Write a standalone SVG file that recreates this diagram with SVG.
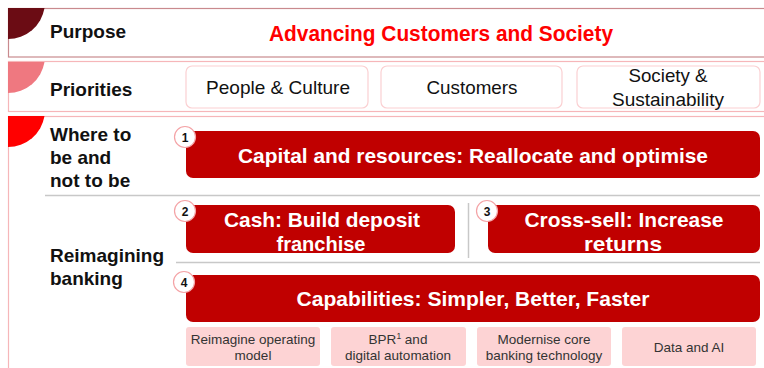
<svg xmlns="http://www.w3.org/2000/svg" width="764" height="368" viewBox="0 0 764 368">
<defs>
<style>
.lbl{font-family:"Liberation Sans",Arial,sans-serif;font-weight:bold;font-size:19px;fill:#111}
.pri{font-family:"Liberation Sans",Arial,sans-serif;font-size:19px;fill:#111;text-anchor:middle}
.prib{fill:#fff;stroke:#fbd0d2;stroke-width:1.2}
.red{fill:#c00000}
.rt{font-family:"Liberation Sans",Arial,sans-serif;font-weight:bold;font-size:21px;fill:#fff;text-anchor:middle}
.num{fill:#fff;stroke:#f4a3a6;stroke-width:1.2}
.nt{font-family:"Liberation Sans",Arial,sans-serif;font-weight:bold;font-size:12px;fill:#111;text-anchor:middle}
.sm{fill:#fdd3d4}
.st{font-family:"Liberation Sans",Arial,sans-serif;font-size:13.5px;fill:#333;text-anchor:middle}
.sep{stroke:#c8c8c8;stroke-width:1.5;fill:none}
</style>
</defs>
<rect width="764" height="368" fill="#fff"/>
<g id="purpose">
<rect x="8.5" y="8.5" width="770" height="48.5" fill="#fff" stroke="#c98a8e" stroke-width="1.2"/>
<path d="M8,8 H44.5 A37,37 0 0 1 8,39 Z" fill="#6b0c14"/>
<text class="lbl" x="50" y="38">Purpose</text>
<text x="441" y="41" font-family="'Liberation Sans',Arial,sans-serif" font-weight="bold" font-size="22" fill="#ff0000" text-anchor="middle" textLength="344" lengthAdjust="spacingAndGlyphs">Advancing Customers and Society</text>
</g>
<g id="priorities">
<rect x="8.5" y="61.5" width="770" height="50" fill="#fff" stroke="#f6b6b9" stroke-width="1.2"/>
<path d="M8,62 H44.5 A37,37 0 0 1 8,93 Z" fill="#ef7880"/>
<text class="lbl" x="50" y="96">Priorities</text>
</g>
<g id="p-people"><rect class="prib" x="186" y="66" width="182" height="42" rx="6"/><text class="pri" x="278" y="94" textLength="144" lengthAdjust="spacingAndGlyphs">People &amp; Culture</text></g>
<g id="p-customers"><rect class="prib" x="381" y="66" width="181" height="42" rx="6"/><text class="pri" x="472" y="94" textLength="91" lengthAdjust="spacingAndGlyphs">Customers</text></g>
<g id="p-society"><rect class="prib" x="577" y="66" width="183" height="42" rx="6"/><text class="pri" x="668" y="82" textLength="79" lengthAdjust="spacingAndGlyphs">Society &amp;</text><text class="pri" x="668" y="106" textLength="112" lengthAdjust="spacingAndGlyphs">Sustainability</text></g>
<g id="strategy">
<rect x="8.5" y="116.5" width="770" height="270" fill="#fff" stroke="#f6b6b9" stroke-width="1.2"/>
<path d="M8,116 H44.5 A37,37 0 0 1 8,147 Z" fill="#ff0000"/>
<text class="lbl" x="50" y="141">Where to</text>
<text class="lbl" x="50" y="164">be and</text>
<text class="lbl" x="50" y="187">not to be</text>
<text class="lbl" x="50" y="262">Reimagining</text>
<text class="lbl" x="50" y="285">banking</text>
</g>
<g id="separators">
<line class="sep" x1="45" y1="195.5" x2="760" y2="195.5"/>
<line class="sep" x1="176" y1="262.5" x2="760" y2="262.5"/>
<line class="sep" x1="468.5" y1="203" x2="468.5" y2="258"/>
</g>
<g id="n1">
<rect class="red" x="186" y="131" width="574" height="47" rx="7"/>
<text class="rt" x="473" y="163" textLength="470" lengthAdjust="spacingAndGlyphs">Capital and resources: Reallocate and optimise</text>
<circle class="num" cx="185" cy="137" r="10.5"/><text class="nt" x="185" y="141.5">1</text>
</g>
<g id="n2">
<rect class="red" x="186" y="205" width="269" height="48" rx="7"/>
<text class="rt" x="322" y="227" textLength="196" lengthAdjust="spacingAndGlyphs">Cash: Build deposit</text>
<text class="rt" x="321" y="251" textLength="89" lengthAdjust="spacingAndGlyphs">franchise</text>
<circle class="num" cx="185" cy="211" r="10.5"/><text class="nt" x="185" y="215.5">2</text>
</g>
<g id="n3">
<rect class="red" x="488" y="205" width="272" height="48" rx="7"/>
<text class="rt" x="624" y="227" textLength="199" lengthAdjust="spacingAndGlyphs">Cross-sell: Increase</text>
<text class="rt" x="623" y="251" textLength="78" lengthAdjust="spacingAndGlyphs">returns</text>
<circle class="num" cx="487" cy="211" r="10.5"/><text class="nt" x="487" y="215.5">3</text>
</g>
<g id="n4">
<rect class="red" x="186" y="275" width="574" height="47" rx="7"/>
<text class="rt" x="473" y="306" textLength="353" lengthAdjust="spacingAndGlyphs">Capabilities: Simpler, Better, Faster</text>
<circle class="num" cx="184" cy="282" r="10.5"/><text class="nt" x="184" y="286.5">4</text>
</g>
<g id="c1"><rect class="sm" x="186" y="327" width="134" height="39" rx="3"/><text class="st" x="253" y="344">Reimagine operating</text><text class="st" x="253" y="360">model</text></g>
<g id="c2"><rect class="sm" x="331" y="327" width="135" height="39" rx="3"/><text class="st" x="398" y="344">BPR<tspan font-size="8.5" dy="-5">1</tspan><tspan dy="5"> and</tspan></text><text class="st" x="398" y="360">digital automation</text></g>
<g id="c3"><rect class="sm" x="477" y="327" width="134" height="39" rx="3"/><text class="st" x="544" y="344">Modernise core</text><text class="st" x="544" y="360">banking technology</text></g>
<g id="c4"><rect class="sm" x="622" y="327" width="134" height="39" rx="3"/><text class="st" x="689" y="352">Data and AI</text></g>
</svg>
